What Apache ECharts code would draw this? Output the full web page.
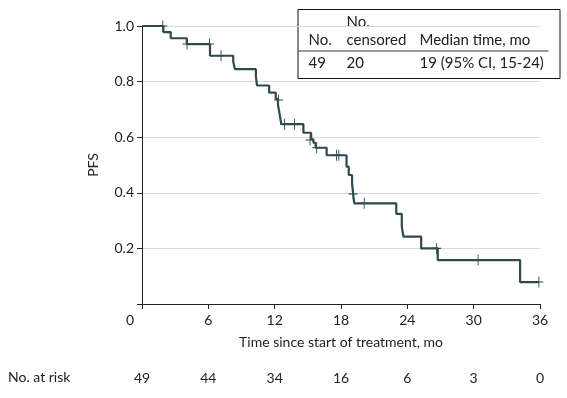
<!DOCTYPE html>
<html>
<head>
<meta charset="utf-8">
<script src="https://cdn.jsdelivr.net/npm/echarts@6/dist/echarts.min.js"></script>
<style>
    html, body { margin: 0; padding: 0; background: #fff; }
    #km_chart { width: 567px; height: 398px; }
</style>
</head>
<body>
<div id="km_chart"></div>
<script>
// Kaplan-Meier steps (time in months, survival after the event)
var kmTime = [0, 1.93, 2.6, 4.05, 6.15, 8.25, 8.4, 10.3, 10.4, 11.5, 12.1, 12.3, 12.4, 12.5, 12.6,
    14.6, 15.3, 15.5, 15.7, 16.7, 18.5, 18.7, 19.0, 19.1, 19.2, 23.0, 23.5, 23.65, 25.25, 26.75, 34.2, 35.9];
var kmSurv = [1.0, 0.978, 0.956, 0.935, 0.893, 0.872, 0.845, 0.82, 0.786, 0.760, 0.738, 0.716, 0.694, 0.671, 0.647,
    0.616, 0.592, 0.580, 0.562, 0.535, 0.494, 0.464, 0.434, 0.396, 0.362, 0.324, 0.278, 0.242, 0.200, 0.158, 0.079, 0.079];

// Censored observations
var cenTime = [1.88, 4.07, 6.1, 7.15, 12.35, 12.9, 13.8, 15.2, 15.8, 17.6, 17.8, 19.1, 20.1, 26.65, 30.4, 35.9];
var cenSurv = [1.0, 0.935, 0.935, 0.893, 0.734, 0.647, 0.647, 0.59, 0.562, 0.535, 0.535, 0.396, 0.362, 0.2, 0.158, 0.079];

// Number at risk at each x tick
var riskTicks = [0, 6, 12, 18, 24, 30, 36];
var atRisk = [49, 44, 34, 16, 6, 3, 0];

// Inset table
var tableHead = ['No.', 'No.\ncensored', 'Median time, mo'];
var tableRow = ['49', '20', '19 (95% CI, 15-24)'];

var curveColor = '#2f4a4d';
var textColor = '#222';
var fontName = 'Lato, sans-serif';

var kmData = kmTime.map(function (t, i) { return [t, kmSurv[i]]; });
var cenData = cenTime.map(function (t, i) { return [t, cenSurv[i]]; });

var chart = echarts.init(document.getElementById('km_chart'));

chart.setOption({
    animation: false,
    textStyle: { fontFamily: fontName, color: textColor },
    grid: { left: 142, right: 27, top: 26, bottom: 94 },

    xAxis: [{
        type: 'value',
        min: 0,
        max: 36,
        interval: 6,
        name: 'Time since start of treatment, mo',
        nameLocation: 'middle',
        nameGap: 31,
        nameTextStyle: { fontSize: 14, color: textColor, fontFamily: fontName },
        axisLine: { onZero: false, lineStyle: { color: '#222', width: 1 } },
        axisTick: { length: 5, lineStyle: { color: '#222' } },
        splitLine: { show: false },
        axisLabel: {
            margin: 9,
            fontSize: 14,
            color: textColor,
            formatter: function (v) { return v === 0 ? '{o|0}' : String(v); },
            rich: { o: { fontSize: 14, color: textColor, padding: [0, 24, 0, 0] } }
        }
    }, {
        type: 'value',
        position: 'bottom',
        min: 0,
        max: 36,
        interval: 6,
        axisLine: { show: false },
        axisTick: { show: false },
        splitLine: { show: false },
        axisLabel: {
            margin: 67,
            fontSize: 14,
            color: textColor,
            formatter: function (v) {
                var k = riskTicks.indexOf(v);
                return k < 0 ? '' : String(atRisk[k]);
            }
        }
    }],

    yAxis: {
        type: 'value',
        min: 0,
        max: 1,
        interval: 0.2,
        name: 'PFS',
        nameLocation: 'middle',
        nameGap: 42,
        nameTextStyle: { fontSize: 14, color: textColor, fontFamily: fontName },
        axisLine: { show: true, onZero: false, lineStyle: { color: '#222', width: 1 } },
        axisTick: { show: true, length: 5, lineStyle: { color: '#222' } },
        splitLine: { show: true, lineStyle: { color: '#d9d9d9', width: 1 } },
        axisLabel: {
            margin: 8,
            fontSize: 14,
            color: textColor,
            formatter: function (v) { return v === 0 ? '' : v.toFixed(1); }
        }
    },

    series: [{
        name: 'PFS',
        type: 'line',
        step: 'end',
        symbol: 'none',
        data: kmData,
        lineStyle: { color: curveColor, width: 2.2 },
        z: 3
    }, {
        name: 'Censored',
        type: 'scatter',
        symbol: 'path://M45,0H55V45H100V55H55V100H45V55H0V45H45Z',
        symbolSize: [9, 11],
        data: cenData,
        itemStyle: { color: curveColor, opacity: 1 },
        z: 4
    }],

    graphic: [{
        type: 'text',
        left: 8,
        top: 370,
        style: { text: 'No. at risk', font: '14px ' + fontName, fill: textColor }
    }, {
        type: 'group',
        left: 296,
        top: 9,
        z: 10,
        children: [{
            type: 'rect',
            shape: { x: 0.5, y: 0.5, width: 262, height: 69 },
            style: { fill: '#fff', stroke: '#111', lineWidth: 1 }
        }, {
            type: 'line',
            shape: { x1: 1, y1: 42, x2: 251, y2: 42 },
            style: { stroke: '#333', lineWidth: 1 }
        }, {
            type: 'text',
            x: 11, y: 31,
            style: { text: tableHead[0], font: '15px ' + fontName, fill: textColor, verticalAlign: 'middle' }
        }, {
            type: 'text',
            x: 49, y: 22,
            style: { text: tableHead[1], font: '15px ' + fontName, fill: textColor, verticalAlign: 'middle', lineHeight: 18 }
        }, {
            type: 'text',
            x: 122, y: 31,
            style: { text: tableHead[2], font: '15px ' + fontName, fill: textColor, verticalAlign: 'middle' }
        }, {
            type: 'text',
            x: 11, y: 54,
            style: { text: tableRow[0], font: '15px ' + fontName, fill: textColor, verticalAlign: 'middle' }
        }, {
            type: 'text',
            x: 49, y: 54,
            style: { text: tableRow[1], font: '15px ' + fontName, fill: textColor, verticalAlign: 'middle' }
        }, {
            type: 'text',
            x: 122, y: 54,
            style: { text: tableRow[2], font: '15px ' + fontName, fill: textColor, verticalAlign: 'middle' }
        }]
    }]
});
</script>
</body>
</html>
